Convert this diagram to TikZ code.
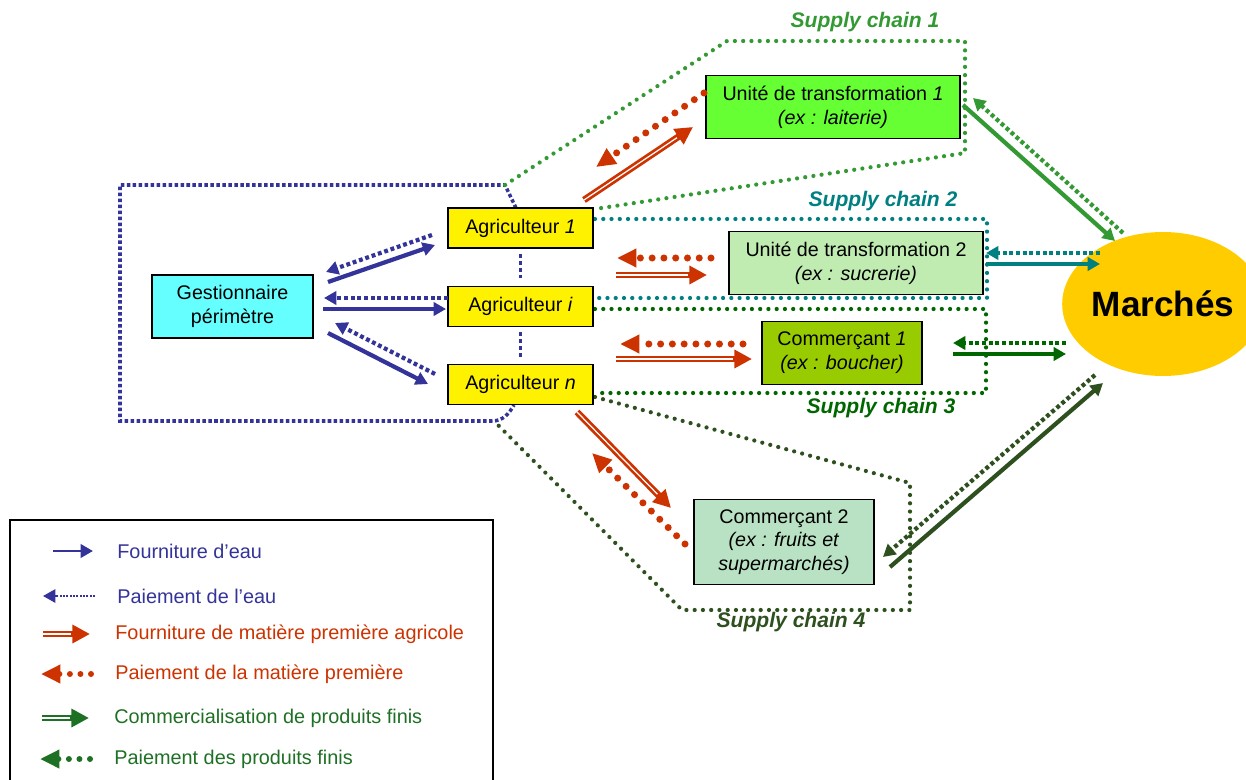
\documentclass[tikz,border=0pt]{standalone}
\usepackage{fontspec}
\setmainfont{Liberation Sans}
\usetikzlibrary{arrows.meta, shapes.geometric}

\definecolor{wblue}{RGB}{51,51,153}
\definecolor{rred}{RGB}{204,51,0}
\definecolor{scone}{RGB}{51,153,51}
\definecolor{sctwo}{RGB}{0,128,128}
\definecolor{scthree}{RGB}{0,102,0}
\definecolor{scfour}{RGB}{45,80,30}
\definecolor{lgreen}{RGB}{30,112,36}
\definecolor{gestfill}{RGB}{102,255,255}
\definecolor{utonefill}{RGB}{102,255,51}
\definecolor{uttwofill}{RGB}{192,236,178}
\definecolor{cmonefill}{RGB}{153,204,0}
\definecolor{cmtwofill}{RGB}{185,226,196}
\definecolor{mktfill}{RGB}{255,204,0}

\begin{document}
\begin{tikzpicture}[x=0.02cm, y=-0.02cm,
    box/.style={draw=black, line width=0.8pt, minimum height=1.26cm, align=center, inner sep=2pt, font=\fontsize{11.2}{13.5}\selectfont},
    solidarrow/.style={draw=#1, line width=2.4pt, -{Triangle[length=7pt,width=7.5pt]}},
    squarearrow/.style={solidarrow=#1, dash pattern=on 2.2pt off 1.6pt},
    doublearrow/.style={draw=#1, line width=3.8pt, -{Triangle[length=10pt,width=10pt]}, postaction={draw=white, line width=0.7pt, -, shorten >=11pt}},
    dotarrow/.style={draw=#1, line width=4pt, line cap=round, dash pattern=on 0pt off 6.7pt, -{Triangle[length=11pt,width=10pt]}},
    chain/.style={draw=#1, line width=2.4pt, line cap=round, dash pattern=on 0pt off 4.7pt},
    chainlabel/.style={text=#1, font=\fontsize{12}{14}\selectfont\bfseries\itshape},
    legendtext/.style={text=#1, anchor=west, inner sep=0pt, font=\fontsize{11.3}{13}\selectfont}]
  \useasboundingbox (0,0) rectangle (1246,780);

  % perimeter and supply chains
  \draw[wblue, line width=2pt, dash pattern=on 2pt off 1.4pt] (516,208) -- (505,185) -- (120,185) -- (120,421) -- (492,421) to[out=0,in=-120] (514,405);
  \draw[chain=scone] (505,185) -- (727,41) -- (965,41) -- (965,153) -- (595,209);
  \draw[chain=sctwo] (595,219) -- (987,219) -- (987,298) -- (595,298);
  \draw[chain=scthree] (595,309) -- (986,309) -- (986,393) -- (595,393);
  \draw[chain=scfour] (595,397) -- (910,483) -- (910,610) -- (682,610) -- (493,420);

  \node[chainlabel=scone] (sc1) at (865,22) {Supply chain 1};
  \node[chainlabel=sctwo] (sc2) at (883,201) {Supply chain 2};
  \node[chainlabel=scthree] (sc3) at (881,408) {Supply chain 3};
  \node[chainlabel=scfour] (sc4) at (791,622) {Supply chain 4};

  % actors
  \node[box, fill=gestfill, minimum width=3.22cm] (g) at (232.5,306.5) {Gestionnaire\\périmètre};
  \node[box, fill=yellow, minimum width=2.9cm, minimum height=0.8cm] (a1) at (520.5,228) {Agriculteur \textit{1}};
  \node[box, fill=yellow, minimum width=2.9cm, minimum height=0.8cm] (ai) at (520.5,306.5) {Agriculteur \textit{i}};
  \node[box, fill=yellow, minimum width=2.9cm, minimum height=0.8cm] (an) at (520.5,384.5) {Agriculteur \textit{n}};
  \node[box, fill=utonefill, minimum width=5.08cm] (ut1) at (833,107) {Unité de transformation \textit{1}\\\textit{(ex : laiterie)}};
  \node[box, fill=uttwofill, minimum width=5.08cm] (ut2) at (856,263) {Unité de transformation 2\\\textit{(ex : sucrerie)}};
  \node[box, fill=cmonefill, minimum width=3.2cm] (c1) at (842,353) {Commerçant \textit{1}\\\textit{(ex : boucher)}};
  \node[box, fill=cmtwofill, minimum width=3.6cm, minimum height=1.7cm] (c2) at (784,542) {Commerçant 2\\\textit{(ex : fruits et}\\\textit{supermarchés)}};
  \node[ellipse, fill=mktfill, minimum width=3.32cm, minimum height=2.88cm, inner sep=0pt, font=\fontsize{20}{24}\selectfont\bfseries] (m) at (1163,304) {Marchés};

  \draw[wblue, line width=2.2pt, dash pattern=on 2.2pt off 1.7pt, shorten <=3pt, shorten >=3pt] (a1.south) -- (ai.north);
  \draw[wblue, line width=2.2pt, dash pattern=on 2.2pt off 1.7pt, shorten <=3pt, shorten >=3pt] (ai.south) -- (an.north);

  % water
  \coordinate (w1a) at (328,282); \coordinate (w1b) at (435,245);
  \coordinate (p1a) at (432,235); \coordinate (p1b) at (326,272);
  \coordinate (wia) at (323,309); \coordinate (wib) at (446,309);
  \coordinate (pia) at (448,298); \coordinate (pib) at (324,298);
  \coordinate (wna) at (328,333); \coordinate (wnb) at (428,384);
  \coordinate (pna) at (435,374); \coordinate (pnb) at (335,323);
  \draw[solidarrow=wblue] (w1a) -- (w1b);
  \draw[squarearrow=wblue] (p1a) -- (p1b);
  \draw[solidarrow=wblue] (wia) -- (wib);
  \draw[squarearrow=wblue] (pia) -- (pib);
  \draw[solidarrow=wblue] (wna) -- (wnb);
  \draw[squarearrow=wblue] (pna) -- (pnb);

  % raw material
  \coordinate (r1a) at (584,200); \coordinate (r1b) at (693,127);
  \coordinate (q1a) at (704,93);  \coordinate (q1b) at (596,167);
  \coordinate (r2a) at (616,275); \coordinate (r2b) at (707,275);
  \coordinate (q2a) at (711,258); \coordinate (q2b) at (617,258);
  \coordinate (r3a) at (616,359); \coordinate (r3b) at (752,359);
  \coordinate (q3a) at (743,344); \coordinate (q3b) at (620,344);
  \coordinate (r4a) at (577,412); \coordinate (r4b) at (671,508);
  \coordinate (q4a) at (685,544); \coordinate (q4b) at (592,453);
  \draw[doublearrow=rred] (r1a) -- (r1b);
  \draw[dotarrow=rred] (q1a) -- (q1b);
  \draw[doublearrow=rred] (r2a) -- (r2b);
  \draw[dotarrow=rred] (q2a) -- (q2b);
  \draw[doublearrow=rred] (r3a) -- (r3b);
  \draw[dotarrow=rred] (q3a) -- (q3b);
  \draw[doublearrow=rred] (r4a) -- (r4b);
  \draw[dotarrow=rred] (q4a) -- (q4b);

  % finished products
  \coordinate (s1a) at (963,105);  \coordinate (s1b) at (1115,241);
  \coordinate (t1a) at (1123,233); \coordinate (t1b) at (973,98);
  \coordinate (s2a) at (986,264);  \coordinate (s2b) at (1100,264);
  \coordinate (t2a) at (1100,253); \coordinate (t2b) at (986,253);
  \coordinate (s3a) at (953,354);  \coordinate (s3b) at (1066,354);
  \coordinate (t3a) at (1066,343); \coordinate (t3b) at (953,343);
  \coordinate (s4a) at (890,567);  \coordinate (s4b) at (1103,383);
  \coordinate (t4a) at (1095,375); \coordinate (t4b) at (883,557);
  \draw[solidarrow=scone] (s1a) -- (s1b);
  \draw[squarearrow=scone] (t1a) -- (t1b);
  \draw[solidarrow=sctwo] (s2a) -- (s2b);
  \draw[squarearrow=sctwo] (t2a) -- (t2b);
  \draw[solidarrow=scthree] (s3a) -- (s3b);
  \draw[squarearrow=scthree] (t3a) -- (t3b);
  \draw[solidarrow=scfour] (s4a) -- (s4b);
  \draw[squarearrow=scfour] (t4a) -- (t4b);

  % legend
  \draw[line width=0.8pt] (10,780) -- (10,520) -- (493,520) -- (493,780);
  \coordinate (l1a) at (53,551); \coordinate (l1b) at (93,551);
  \coordinate (l2a) at (95,596); \coordinate (l2b) at (43,596);
  \coordinate (l3a) at (43,634); \coordinate (l3b) at (90,634);
  \coordinate (l4a) at (91,674); \coordinate (l4b) at (41,674);
  \coordinate (l5a) at (42,718); \coordinate (l5b) at (89,718);
  \coordinate (l6a) at (90,759); \coordinate (l6b) at (40,759);
  \draw[solidarrow=wblue, line width=1.7pt] (l1a) -- (l1b);
  \draw[squarearrow=wblue, line width=1.3pt, dash pattern=on 1.1pt off 0.8pt] (l2a) -- (l2b);
  \draw[doublearrow=rred] (l3a) -- (l3b);
  \draw[dotarrow=rred, line width=3.4pt, dash pattern=on 0pt off 6pt] (l4a) -- (l4b);
  \draw[doublearrow=lgreen] (l5a) -- (l5b);
  \draw[dotarrow=lgreen, line width=3.4pt, dash pattern=on 0pt off 6pt] (l6a) -- (l6b);
  \node[legendtext=wblue] (lt1) at (117,551) {Fourniture d’eau};
  \node[legendtext=wblue] (lt2) at (117,596) {Paiement de l’eau};
  \node[legendtext=rred] (lt3) at (115,634) {Fourniture de matière première agricole};
  \node[legendtext=rred] (lt4) at (115,674) {Paiement de la matière première};
  \node[legendtext=lgreen] (lt5) at (114,718) {Commercialisation de produits finis};
  \node[legendtext=lgreen] (lt6) at (114,759) {Paiement des produits finis};
\end{tikzpicture}
\end{document}
